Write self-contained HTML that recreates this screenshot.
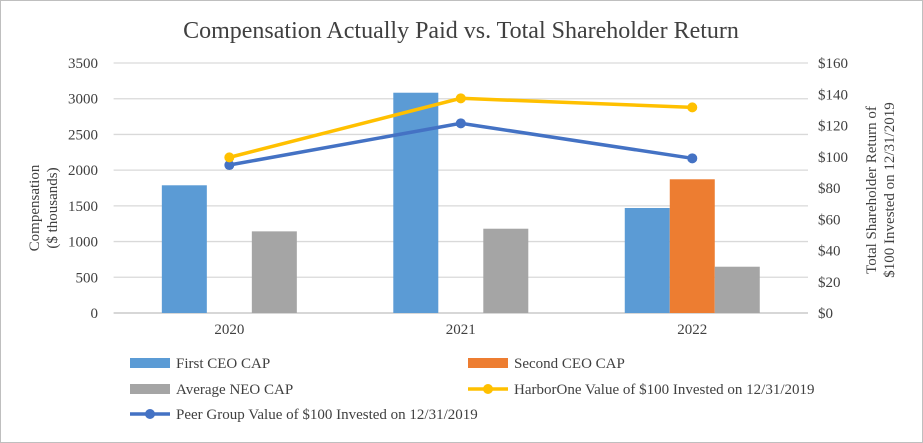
<!DOCTYPE html>
<html><head><meta charset="utf-8"><style>
body{margin:0;background:#fff}
svg{display:block;font-family:"Liberation Serif",serif}
</style></head><body>
<svg id="c" width="923" height="443">
<rect x="0.5" y="0.5" width="922" height="442" fill="#fff" stroke="#bfbfbf"/>
<text x="461" y="38" text-anchor="middle" font-size="24" fill="#404040">Compensation Actually Paid vs. Total Shareholder Return</text>
<g id="grid"></g><g id="bars"></g><g id="lines"></g><g id="axes"></g>
<text transform="translate(42,208) rotate(-90)" text-anchor="middle" font-size="15" fill="#404040"><tspan x="0" dy="-3">Compensation</tspan><tspan x="0" dy="18">($ thousands)</tspan></text>
<text transform="translate(876,190) rotate(-90)" text-anchor="middle" font-size="15" fill="#404040"><tspan x="0" dy="0">Total Shareholder Return of</tspan><tspan x="0" dy="18">$100 Invested on 12/31/2019</tspan></text>
<g id="legend" font-size="15" fill="#404040"></g>
</svg>
<script>
const categories=["2020","2021","2022"];
const firstCeo=[1788,3084,1470];
const secondCeo=[0,0,1872];
const avgNeo=[1143,1180,648];
const harborOne=[99.6,137.4,131.6];
const peerGroup=[94.7,121.4,99];
const leftTicks=[0,500,1000,1500,2000,2500,3000,3500];
const rightTicks=[0,20,40,60,80,100,120,140,160];
const NS="http://www.w3.org/2000/svg";
const X0=113.6,X1=808,Y0=313,Y1=63;
const yL=v=>Y0-(v/3500)*(Y0-Y1);
const yR=v=>Y0-(v/160)*(Y0-Y1);
const cw=(X1-X0)/categories.length;
const xC=i=>X0+cw*(i+0.5);
function mk(t,a,p){const e=document.createElementNS(NS,t);for(const k in a)e.setAttribute(k,a[k]);p.appendChild(e);return e;}
const grid=document.getElementById('grid'),axes=document.getElementById('axes');
leftTicks.forEach(v=>{
 const l=mk('line',{x1:X0,x2:X1,y1:yL(v),y2:yL(v),stroke:v===0?'#bfbfbf':'#d9d9d9','stroke-width':1.3},grid);
 
 
 const t=mk('text',{x:98,y:yL(v)+5,'text-anchor':'end','font-size':15,fill:'#404040'},axes);t.textContent=v;
 
 
});
rightTicks.forEach(v=>{
 const t=mk('text',{x:818,y:yR(v)+5,'font-size':15,fill:'#404040'},axes);t.textContent='$'+v;
 
 
});
categories.forEach((c,i)=>{
 const t=mk('text',{x:xC(i),y:334,'text-anchor':'middle','font-size':15,fill:'#404040'},axes);t.textContent=c;
 
 
});
const bars=document.getElementById('bars');const bw=45;
[[firstCeo,'#5b9bd5','first-ceo-bar'],[secondCeo,'#ed7d31','second-ceo-bar'],[avgNeo,'#a5a5a5','avg-neo-bar']].forEach((s,k)=>{
 s[0].forEach((v,i)=>{
  if(v<=0)return;
  const x=xC(i)+(k-1.5)*bw;
  const r=mk('rect',{x:x,y:yL(v),width:bw,height:Y0-yL(v),fill:s[1]},bars);
  
  
 });
});
const lines=document.getElementById('lines');
[[peerGroup,'#4472c4','peer-group-line'],[harborOne,'#ffc000','harborone-line']].forEach(s=>{
 const p=mk('polyline',{points:s[0].map((v,i)=>xC(i)+','+yR(v)).join(' '),fill:'none',stroke:s[1],'stroke-width':3.5},lines);
 
 
 s[0].forEach((v,i)=>{
  const c=mk('circle',{cx:xC(i),cy:yR(v),r:5,fill:s[1]},lines);
  
  
 });
});
const lg=document.getElementById('legend');
const items=[['First CEO CAP','#5b9bd5','bar',130,363],['Second CEO CAP','#ed7d31','bar',468,363],['Average NEO CAP','#a5a5a5','bar',130,389],['HarborOne Value of $100 Invested on 12/31/2019','#ffc000','line',468,389],['Peer Group Value of $100 Invested on 12/31/2019','#4472c4','line',130,414]];
items.forEach(it=>{
 const g=mk('g',{},lg);
 
 
 if(it[2]==='bar')mk('rect',{x:it[3],y:it[4]-5,width:40,height:10,fill:it[1]},g);
 else{mk('line',{x1:it[3],x2:it[3]+40,y1:it[4],y2:it[4],stroke:it[1],'stroke-width':3.5},g);mk('circle',{cx:it[3]+20,cy:it[4],r:5,fill:it[1]},g);}
 const t=mk('text',{x:it[3]+46,y:it[4]+5},g);t.textContent=it[0];
});
</script>
</body></html>
